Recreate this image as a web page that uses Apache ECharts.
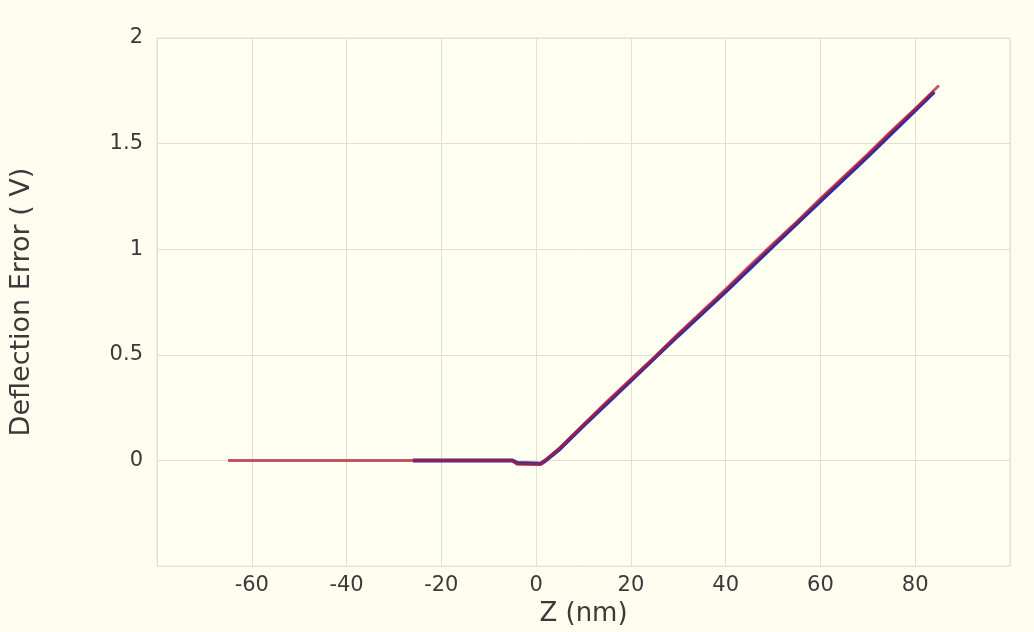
<!DOCTYPE html>
<html>
<head>
<meta charset="utf-8">
<script src="https://cdn.jsdelivr.net/npm/echarts@6/dist/echarts.min.js"></script>
<style>
  html, body { margin: 0; padding: 0; background: #fefdf0; }
  #chart { width: 1034px; height: 632px; }
</style>
</head>
<body>
<div id="chart"></div>
<script>
'use strict';

// trace data: [Z (nm), deflection (V)]
var redZ = [-65, -26, -5, -4, 1, 2, 5, 10, 15, 20, 25, 30, 35, 40, 45, 50, 55, 60, 65, 70, 75, 80, 85];
var redV = [0, 0, 0, -0.018, -0.018, 0, 0.06, 0.17, 0.28, 0.385, 0.49, 0.60, 0.705, 0.81, 0.92, 1.025, 1.13, 1.24, 1.345, 1.45, 1.56, 1.665, 1.775];

var blueZ = [-26, -5, -4, 1, 2, 5, 10, 20, 30, 40, 50, 60, 70, 84];
var blueV = [0, 0, -0.012, -0.015, 0, 0.055, 0.165, 0.378, 0.592, 0.80, 1.015, 1.228, 1.44, 1.745];

var xTicks = [-60, -40, -20, 0, 20, 40, 60, 80];
var yTicks = [0, 0.5, 1, 1.5, 2];

var zip = function(xs, ys) {
    return xs.map(function(x, i) { return [x, ys[i]]; });
};

var gridColor = '#e4e0cd';
var textColor = '#3a3a3a';

var myChart = echarts.init(document.getElementById('chart'));
var option = {
    backgroundColor: '#fefdf0',
    animation: false,
    grid: {
        left: 156,
        right: 24,
        top: 38,
        bottom: 64,
        show: true,
        borderColor: gridColor,
        borderWidth: 1,
        backgroundColor: '#fffff2'
    },
    xAxis: {
        type: 'value',
        min: -80,
        max: 100,
        interval: 20,
        name: 'Z (nm)',
        nameLocation: 'middle',
        nameGap: 33,
        nameTextStyle: {
            fontFamily: 'DejaVu Sans',
            fontSize: 26,
            color: textColor
        },
        axisLine: { show: true, lineStyle: { color: gridColor } },
        axisTick: { show: false },
        axisLabel: {
            fontFamily: 'DejaVu Sans',
            fontSize: 21,
            color: textColor,
            margin: 9,
            formatter: function(v) {
                return xTicks.indexOf(v) >= 0 ? String(v) : '';
            }
        },
        splitLine: { show: true, lineStyle: { color: gridColor, width: 1 } }
    },
    yAxis: {
        type: 'value',
        min: -0.5,
        max: 2,
        interval: 0.5,
        name: 'Deflection Error ( V)',
        nameLocation: 'middle',
        nameGap: 122,
        nameTextStyle: {
            fontFamily: 'DejaVu Sans',
            fontSize: 27,
            color: textColor
        },
        axisLine: { show: true, lineStyle: { color: gridColor } },
        axisTick: { show: false },
        axisLabel: {
            fontFamily: 'DejaVu Sans',
            fontSize: 21,
            color: textColor,
            margin: 14,
            formatter: function(v) {
                return yTicks.indexOf(v) >= 0 ? String(v) : '';
            }
        },
        splitLine: { show: true, lineStyle: { color: gridColor, width: 1 } }
    },
    series: [{
        name: 'trace',
        type: 'line',
        data: zip(blueZ, blueV),
        showSymbol: false,
        lineStyle: { color: '#2a2aa8', width: 4 },
        z: 2
    }, {
        name: 'retrace',
        type: 'line',
        data: zip(redZ, redV),
        showSymbol: false,
        lineStyle: { color: '#b81c34', width: 3, opacity: 0.75 },
        z: 3
    }]
};
myChart.setOption(option);
</script>
</body>
</html>
